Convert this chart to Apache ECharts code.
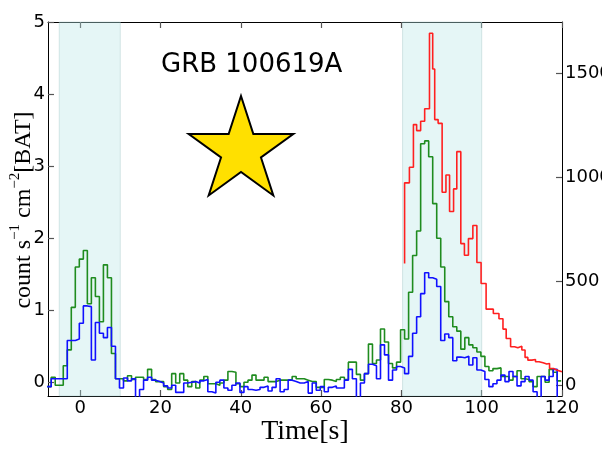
<!DOCTYPE html>
<html>
<head>
<meta charset="utf-8">
<script src="https://cdn.jsdelivr.net/npm/echarts@6/dist/echarts.min.js"></script>
<style>
  html, body { margin: 0; padding: 0; background: #fff; }
  #chart { width: 602px; height: 452px; }
</style>
</head>
<body>
<div id="chart"></div>
<script>
// BAT light curves: 1 s bins, first bin starts at batStart (s)
const batStart = -8.2;
const batBin = 1;

// 15-350 keV-ish total band (green), counts s^-1 cm^-2
const green = [
  -0.06, 0.07, -0.04, -0.04, 0.23, 0.45, 1.04, 1.60, 1.71, 1.83,
  1.09, 1.45, 1.19, 0.84, 1.63, 1.45, 0.40, 0.05, 0.05, 0.02,
  0.09, 0.04, 0.07, 0.07, 0.04, 0.18, 0.04, 0.01, 0.01, -0.06,
  -0.10, 0.12, -0.01, 0.12, 0.03, -0.06, 0.01, -0.08, 0.03, 0.08,
  -0.02, -0.02, -0.04, -0.01, 0.03, 0.15, 0.14, -0.02, -0.06, 0.00,
  0.03, 0.10, 0.03, 0.03, 0.07, 0.01, 0.01, 0.03, 0.03, 0.03,
  0.04, 0.08, 0.05, 0.05, 0.03, 0.01, 0.01, -0.07, -0.07, 0.04,
  0.03, 0.01, 0.04, 0.07, 0.04, 0.28, 0.28, 0.11, 0.03, 0.12,
  0.53, 0.26, 0.31, 0.74, 0.56, 0.26, 0.20, 0.28, 0.73, 0.60,
  1.25, 1.76, 2.10, 3.31, 3.35, 3.13, 2.48, 2.00, 1.60, 1.12,
  0.91, 0.77, 0.71, 0.46, 0.62, 0.52, 0.48, 0.42, 0.36, 0.22,
  0.16, 0.19, 0.20, 0.08, 0.08, 0.03, 0.08, 0.16, 0.05, 0.04,
  0.01, -0.06, 0.08, 0.08, 0.00, 0.18, 0.14, 0.02
];

// softer band (blue), counts s^-1 cm^-2
const blue = [
  -0.06, 0.05, 0.05, 0.05, 0.05, 0.58, 0.58, 0.60, 0.82, 1.06,
  1.05, 0.31, 0.83, 0.68, 0.62, 0.76, 0.50, 0.05, -0.08, 0.06,
  0.02, 0.05, -0.30, -0.10, 0.03, 0.07, 0.03, 0.01, -0.01, -0.05,
  -0.08, -0.04, -0.14, -0.14, -0.01, 0.00, 0.01, -0.01, 0.02, 0.04,
  -0.13, -0.15, 0.00, 0.03, -0.08, -0.11, -0.04, -0.01, -0.14, -0.06,
  -0.10, -0.11, -0.10, -0.07, -0.05, -0.12, -0.07, 0.05, -0.13, -0.10,
  0.03, 0.01, -0.01, -0.01, 0.01, -0.15, -0.01, -0.11, -0.06, -0.13,
  -0.07, -0.05, -0.08, -0.08, 0.03, 0.18, 0.05, -0.30, -0.01, 0.12,
  0.25, 0.23, 0.05, 0.52, 0.38, 0.03, 0.17, 0.22, 0.20, 0.12,
  0.36, 0.68, 0.91, 1.23, 1.52, 1.45, 1.43, 1.33, 0.58, 0.67,
  0.62, 0.30, 0.35, 0.34, 0.36, 0.24, 0.34, 0.17, 0.15, 0.04,
  -0.06, -0.02, 0.03, 0.10, 0.01, 0.15, 0.08, -0.05, 0.01, 0.08,
  0.03, -0.13, -0.25, 0.08, 0.03, 0.08, 0.18, -0.25
];

// second instrument (red, right axis): bin edges (s) and counts per bin.
// redCounts[0] is the level the curve starts from at redEdges[0];
// redCounts[i] is the bin that ends at redEdges[i].
const redEdges = [
  80.8, 82.0, 83.0, 83.8, 84.8, 85.8, 87.0, 87.8, 88.3, 89.15,
  90.15, 91.1, 92.0, 93.0, 93.8, 94.8, 95.7, 96.7, 97.8, 98.8,
  99.85, 101.1, 102.9, 104.3, 105.3, 106.1, 107.2, 108.2, 109.0, 110.0,
  110.8, 111.5, 112.5, 113.4, 114.3, 115.3, 116.2, 116.9, 117.9, 118.7,
  120.0
];
const redCounts = [
  585, 973, 1048, 1253, 1224, 1269, 1329, 1692, 1520, 1277,
  1259, 928, 1011, 835, 944, 1123, 681, 625, 705, 768,
  590, 489, 366, 345, 320, 270, 225, 185, 180, 188,
  170, 134, 121, 124, 113, 108, 102, 105, 81, 73,
  65
];

// shaded intervals (s)
const bandFrom = [-5.2, 80.3];
const bandTo = [10.0, 100.0];

// axes
const timeTicks = [0, 20, 40, 60, 80, 100, 120];
const rateTicks = [0, 1, 2, 3, 4, 5];
const countTicks = [0, 500, 1000, 1500];

function binSteps(values, start, width) {
  const pts = values.map((v, i) => [start + i * width, v]);
  pts.push([start + values.length * width, values[values.length - 1]]);
  return pts;
}

function starPoints(cx, cy, outer, inner) {
  const pts = [];
  for (let i = 0; i < 10; i++) {
    const a = -Math.PI / 2 + i * Math.PI / 5;
    const r = i % 2 === 0 ? outer : inner;
    pts.push([cx + r * Math.cos(a), cy + r * Math.sin(a)]);
  }
  return pts;
}

const chart = echarts.init(document.getElementById('chart'), null, { renderer: 'canvas' });

const tickFont = { fontFamily: 'DejaVu Sans', fontSize: 18, color: '#000', formatter: v => String(v) };
const serif = 'Liberation Serif';
const frame = { show: true, onZero: false, lineStyle: { color: '#000', width: 1 } };
const tickStyle = { color: '#555', width: 1.2 };

const option = {
  animation: false,
  backgroundColor: '#fff',
  grid: { left: 48, right: 40, top: 22, bottom: 56, containLabel: false, outerBoundsMode: 'none' },
  xAxis: [
    {
      type: 'value', min: -8, max: 120, position: 'bottom',
      axisLine: frame,
      axisTick: { show: true, inside: true, length: 6, customValues: timeTicks, lineStyle: tickStyle },
      axisLabel: { show: true, margin: 3, customValues: timeTicks, ...tickFont },
      splitLine: { show: false }
    },
    {
      type: 'value', min: -8, max: 120, position: 'top',
      axisLine: frame,
      axisTick: { show: true, inside: true, length: 6, customValues: timeTicks, lineStyle: tickStyle },
      axisLabel: { show: false },
      splitLine: { show: false }
    }
  ],
  yAxis: [
    {
      type: 'value', min: -0.19, max: 5, position: 'left',
      axisLine: frame,
      axisTick: { show: true, inside: true, length: 6, customValues: rateTicks, lineStyle: tickStyle },
      axisLabel: { show: true, margin: 3, customValues: rateTicks, ...tickFont },
      splitLine: { show: false }
    },
    {
      type: 'value', min: -51.4, max: 1746, position: 'right',
      axisLine: frame,
      axisTick: { show: true, inside: true, length: 6, customValues: countTicks, lineStyle: tickStyle },
      axisLabel: { show: true, margin: 3, customValues: countTicks, ...tickFont },
      splitLine: { show: false }
    }
  ],
  series: [
    {
      name: 'bands', type: 'line', data: [], silent: true,
      markArea: {
        silent: true,
        itemStyle: { color: 'rgba(175, 228, 228, 0.33)', borderColor: 'rgba(150, 190, 190, 0.35)', borderWidth: 1 },
        data: bandFrom.map((a, i) => [{ xAxis: a }, { xAxis: bandTo[i] }])
      }
    },
    {
      name: 'green', type: 'line', step: 'end', showSymbol: false, clip: true,
      data: binSteps(green, batStart, batBin),
      lineStyle: { color: '#1f8c1f', width: 1.6 }, z: 3
    },
    {
      name: 'blue', type: 'line', step: 'end', showSymbol: false, clip: true,
      data: binSteps(blue, batStart, batBin),
      lineStyle: { color: '#1010ff', width: 1.6 }, z: 4
    },
    {
      name: 'red', type: 'line', step: 'start', showSymbol: false, clip: true, yAxisIndex: 1,
      data: redEdges.map((t, i) => [t, redCounts[i]]),
      lineStyle: { color: '#ff2020', width: 1.6 }, z: 5
    }
  ],
  graphic: [
    {
      type: 'text', left: 161, top: 52, z: 10,
      style: { text: 'GRB 100619A', fontFamily: 'DejaVu Sans', fontSize: 26, fill: '#000' }
    },
    {
      type: 'polygon', z: 10,
      shape: { points: starPoints(241, 151, 55, 21) },
      style: { fill: '#ffe000', stroke: '#000', lineWidth: 2 }
    },
    {
      type: 'text', x: 305, y: 432, z: 10,
      style: { text: 'Time[s]', fontFamily: serif, fontSize: 28, fill: '#000', align: 'center', verticalAlign: 'middle' }
    },
    {
      type: 'text', x: 22, y: 210, rotation: Math.PI / 2, z: 10,
      style: {
        text: '{m|count s}{s|−1}{m| cm}{s|−2}{m|[BAT]}',
        align: 'center', verticalAlign: 'middle',
        rich: {
          m: { fontFamily: serif, fontSize: 24, lineHeight: 28, verticalAlign: 'bottom', fill: '#000' },
          s: { fontFamily: serif, fontSize: 15, lineHeight: 15, verticalAlign: 'top', fill: '#000' }
        }
      }
    }
  ]
};

chart.setOption(option);
</script>
</body>
</html>
